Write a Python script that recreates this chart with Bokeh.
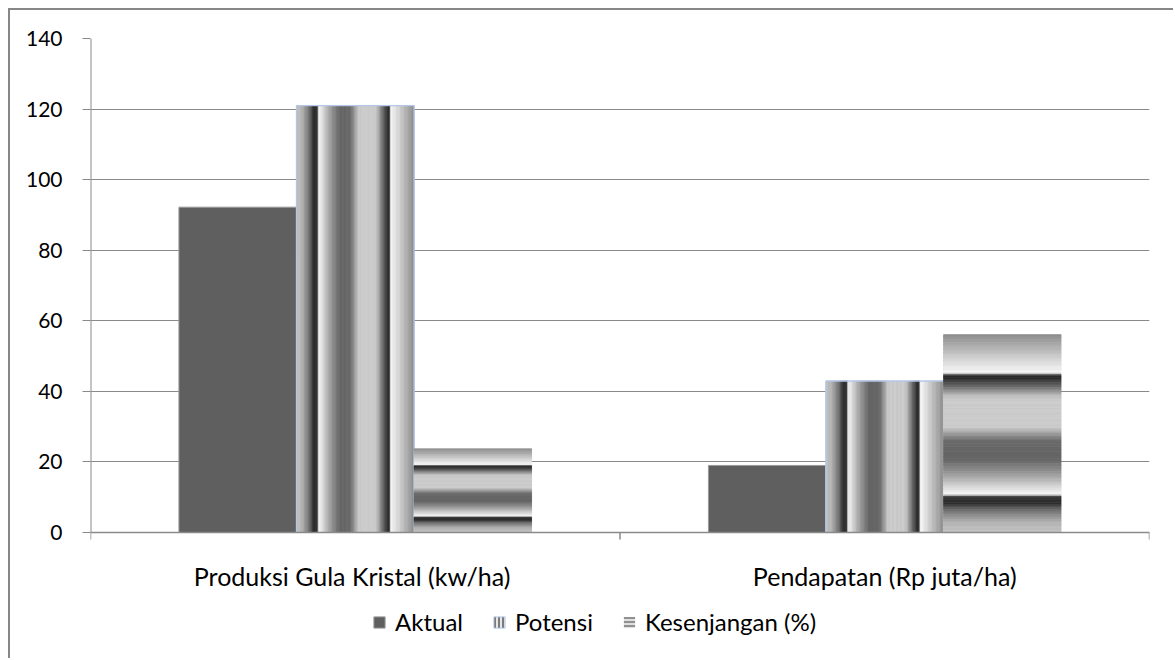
import numpy as np
from bokeh.plotting import figure
from bokeh.models import (ColumnDataSource, Range1d, FixedTicker, Legend, LegendItem, Span)
from bokeh.core.properties import value
from bokeh.embed import file_html
from bokeh.resources import INLINE

# ---------------- data ----------------
categories = ["Produksi Gula Kristal  (kw/ha)", "Pendapatan (Rp juta/ha)"]
series_names = ["Aktual", "Potensi", "Kesenjangan (%)"]
aktual = [92.2, 19.0]
potensi = [121.0, 42.9]
kesenjangan = [23.7, 56.1]
y_ticks = [0, 20, 40, 60, 80, 100, 120, 140]

# ---------------- style ----------------
FONT = "Lato"
FS_TICK = "21px"
FS_CAT = "25px"
FS_LEG = "24px"
BAR_W = 0.222          # width of one bar as fraction of a category slot
AKTUAL_COLOR = "#5f5f5f"
BORDER_BLUE = "#b4c7e7"
GRID = "#8a8a8a"
# pixel layout (page coordinates)
PAGE_OFF = 10          # margin + border of the figure box
FRAME_TOP = 38         # y of value 140
AXIS_Y = 532           # y of value 0
PAGE_H = 660
Y_MAX = y_ticks[-1]
Y_MIN = -(PAGE_H - AXIS_Y) / (AXIS_Y - FRAME_TOP) * Y_MAX

# metallic stripe profile (position 0..1, grey level)
PROFILE = [(0.00, 140), (0.06, 175), (0.14, 220), (0.195, 250), (0.205, 70),
           (0.215, 35), (0.26, 100), (0.31, 190), (0.33, 204), (0.47, 204),
           (0.50, 160), (0.54, 105), (0.63, 100), (0.70, 150), (0.78, 225),
           (0.81, 248), (0.82, 55), (0.85, 40), (0.89, 115), (0.95, 180),
           (1.00, 195)]
NSL = 120

pu = np.array([p[0] for p in PROFILE])
pg = np.array([p[1] for p in PROFILE])


def grey(u):
    g = int(round(float(np.interp(u, pu, pg))))
    return "#%02x%02x%02x" % (g, g, g)


n = len(categories)
centers = np.arange(n) + 0.5
offsets = [-BAR_W, 0.0, BAR_W]

p = figure(width=1165, height=650, output_backend="svg", toolbar_location=None,
           x_range=Range1d(0, n), y_range=Range1d(Y_MIN, Y_MAX),
           x_axis_location=None,
           min_border_left=80, min_border_top=FRAME_TOP - PAGE_OFF, min_border_right=26,
           min_border_bottom=0, title=None)
p.styles = {"margin-left": "8px", "margin-top": "8px",
            "border-left": "2px solid #878787", "border-top": "2px solid #878787"}
p.outline_line_color = None
p.background_fill_color = "white"
p.border_fill_color = "white"

# ----- grid / axes -----
p.ygrid.grid_line_color = GRID
p.ygrid.grid_line_width = 1
p.xgrid.grid_line_color = None
p.yaxis.ticker = FixedTicker(ticks=y_ticks)
p.yaxis.axis_line_color = None
p.yaxis.major_tick_line_color = GRID
p.yaxis.major_tick_out = 8
p.yaxis.major_tick_in = 0
p.yaxis.minor_tick_line_color = None
p.yaxis.major_label_text_font = FONT
p.yaxis.major_label_text_font_size = FS_TICK
p.yaxis.major_label_text_color = "black"
p.yaxis.major_label_standoff = 20

# y axis line (0..140) and x axis line at 0
p.segment(x0=[0], y0=[y_ticks[0]], x1=[0], y1=[Y_MAX], line_color=GRID, line_width=2)
p.add_layout(Span(location=0, dimension="width", line_color=GRID, line_width=1.5))
# category boundary ticks
p.ray(x=list(range(n + 1)), y=[0] * (n + 1), length=7, length_units="screen",
      angle=-np.pi / 2, line_color=GRID, line_width=1.5)
# category labels
p.text(x=list(centers), y=[0] * n, text=categories, y_offset=43,
       text_align="center", text_baseline="middle", text_font=value(FONT),
       text_font_size=FS_CAT, text_color="black")

# ----- Aktual (solid) -----
xa = centers + offsets[0]
src_a = ColumnDataSource(dict(left=xa - BAR_W / 2, right=xa + BAR_W / 2,
                              top=aktual, bottom=[0] * n))
r_a = p.quad(left="left", right="right", top="top", bottom="bottom", source=src_a,
             fill_color=AKTUAL_COLOR, line_color="#9a9a9a", line_width=1)

# ----- Potensi (vertical stripes) -----
xp = centers + offsets[1]
src_p = ColumnDataSource(dict(left=xp - BAR_W / 2, right=xp + BAR_W / 2,
                              top=potensi, bottom=[0] * n))
r_p = p.quad(left="left", right="right", top="top", bottom="bottom", source=src_p,
             fill_color="#e6e6e6", hatch_pattern="|", hatch_color="#555555",
             hatch_scale=4, hatch_weight=1.5, line_color=BORDER_BLUE, line_width=1)
L, R, T, B, C = [], [], [], [], []
for i in range(n):
    x0 = xp[i] - BAR_W / 2
    dx = BAR_W / NSL
    for k in range(NSL):
        t = (k + 0.5) / NSL
        L.append(x0 + k * dx)
        R.append(x0 + (k + 1) * dx)
        T.append(potensi[i])
        B.append(0)
        C.append(grey(1 - t))
p.quad(left=L, right=R, top=T, bottom=B, fill_color=C, line_color=C, line_width=0.6)
p.quad(left="left", right="right", top="top", bottom="bottom", source=src_p,
       fill_color=None, line_color=BORDER_BLUE, line_width=1.2)

# ----- Kesenjangan (horizontal stripes) -----
xk = centers + offsets[2]
src_k = ColumnDataSource(dict(left=xk - BAR_W / 2, right=xk + BAR_W / 2,
                              top=kesenjangan, bottom=[0] * n))
r_k = p.quad(left="left", right="right", top="top", bottom="bottom", source=src_k,
             fill_color="#e0e0e0", hatch_pattern="-", hatch_color="#777777",
             hatch_scale=4, hatch_weight=1.5, line_color=None)
L, R, T, B, C = [], [], [], [], []
for i in range(n):
    h = kesenjangan[i]
    dy = h / NSL
    for k in range(NSL):
        s = (k + 0.5) / NSL   # from top
        L.append(xk[i] - BAR_W / 2)
        R.append(xk[i] + BAR_W / 2)
        T.append(h - k * dy)
        B.append(h - (k + 1) * dy)
        C.append(grey(s))
p.quad(left=L, right=R, top=T, bottom=B, fill_color=C, line_color=C, line_width=0.6)

# ----- legend -----
legend = Legend(items=[LegendItem(label=series_names[0], renderers=[r_a]),
                       LegendItem(label=series_names[1], renderers=[r_p]),
                       LegendItem(label=series_names[2], renderers=[r_k])],
                orientation="horizontal", location=(282, 24),
                label_text_font=FONT, label_text_font_size=FS_LEG,
                label_text_color="black", glyph_width=14, glyph_height=14,
                label_standoff=9, spacing=29, padding=0, margin=0,
                border_line_color=None, background_fill_alpha=0,
                label_height=24)
p.add_layout(legend, "center")

open("out.html", "w").write(file_html(p, INLINE))
